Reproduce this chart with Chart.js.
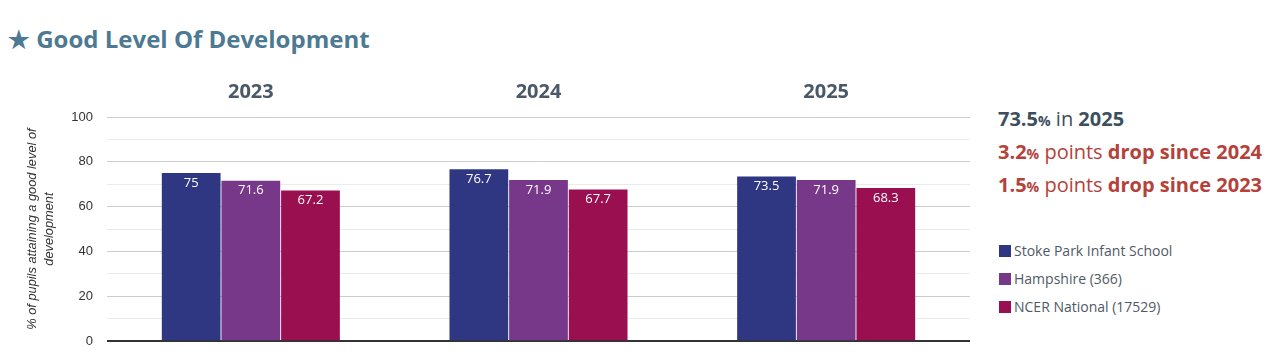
<!DOCTYPE html>
<html>
<head>
<meta charset="utf-8">
<script src="https://cdn.jsdelivr.net/npm/chart.js@4"></script>
<style>
  html, body { margin: 0; padding: 0; background: #ffffff; }
  body { width: 1277px; height: 357px; position: relative; overflow: hidden; font-family: "Open Sans", sans-serif; }
  #title { position: absolute; left: 8px; top: 22px; font-size: 24px; font-weight: 700; color: #4d7a92; white-space: nowrap; }
  #chartWrap { position: absolute; left: 0; top: 60px; width: 972px; height: 303px; }
  #panel { position: absolute; left: 972px; top: 60px; width: 305px; height: 297px; background: #ffffff; }
  .stat { position: absolute; left: 26px; font-size: 20px; white-space: nowrap; }
  .stat b { font-weight: 700; }
  .stat small { font-size: 14px; font-weight: 700; }
  .dark { color: #3d4e5d; }
  .red { color: #b4423a; }
  .leg { position: absolute; left: 27px; font-size: 14px; color: #4f5a66; white-space: nowrap; }
  .leg i { display: inline-block; width: 12px; height: 12px; vertical-align: -1px; margin-right: 3px; }
</style>
</head>
<body>
<div id="title">★ Good Level Of Development</div>
<div id="chartWrap"><canvas id="c" width="972" height="303"></canvas></div>
<div id="panel">
  <div class="stat dark" style="top:45px"><b>73.5</b><small>%</small> in <b>2025</b></div>
  <div class="stat red" style="top:78px"><b>3.2</b><small>%</small> points <b>drop since 2024</b></div>
  <div class="stat red" style="top:111px"><b>1.5</b><small>%</small> points <b>drop since 2023</b></div>
  <div class="leg" style="top:181px"><i style="background:#2f3783"></i>Stoke Park Infant School</div>
  <div class="leg" style="top:209px"><i style="background:#773889"></i>Hampshire (366)</div>
  <div class="leg" style="top:237px"><i style="background:#990f4f"></i>NCER National (17529)</div>
</div>
<script>
const categories = ["2023", "2024", "2025"];
const seriesNames = ["Stoke Park Infant School", "Hampshire (366)", "NCER National (17529)"];
const stokePark = [75, 76.7, 73.5];
const hampshire = [71.6, 71.9, 71.9];
const ncerNational = [67.2, 67.7, 68.3];
const yTickLabels = [0, 20, 40, 60, 80, 100];
const colors = ["#2f3783", "#773889", "#990f4f"];

const valueLabels = {
  id: 'valueLabels',
  afterDatasetsDraw(chart) {
    const ctx = chart.ctx;
    ctx.save();
    ctx.font = '13px "Open Sans", sans-serif';
    ctx.fillStyle = '#ffffff';
    ctx.textAlign = 'center';
    ctx.textBaseline = 'middle';
    chart.data.datasets.forEach((ds, i) => {
      const meta = chart.getDatasetMeta(i);
      meta.data.forEach((bar, j) => {
        ctx.fillText(String(ds.data[j]), bar.x, bar.y + 10);
      });
    });
    ctx.restore();
  }
};

new Chart(document.getElementById('c'), {
  type: 'bar',
  data: {
    labels: categories,
    datasets: [
      { label: seriesNames[0], data: stokePark, backgroundColor: colors[0] },
      { label: seriesNames[1], data: hampshire, backgroundColor: colors[1] },
      { label: seriesNames[2], data: ncerNational, backgroundColor: colors[2] }
    ]
  },
  options: {
    responsive: false,
    animation: false,
    layout: { padding: { top: 0, right: 2, bottom: 0, left: 0 } },
    datasets: { bar: { categoryPercentage: 0.622, barPercentage: 0.985, borderWidth: 0 } },
    plugins: { legend: { display: false }, tooltip: { enabled: false } },
    scales: {
      x: {
        position: 'top',
        grid: { display: false, drawTicks: false },
        border: { display: false },
        ticks: { color: '#4a5968', font: { family: 'Open Sans', size: 20, weight: 'bold' }, padding: 13 },
        afterFit(scale) { scale.height = 57; }
      },
      y: {
        min: 0, max: 100,
        border: { display: false },
        grid: {
          drawTicks: false,
          color(ctx) {
            const v = ctx.tick.value;
            if (v === 0) return '#333333';
            return (v % 20 === 0) ? '#cccccc' : '#ebebeb';
          },
          lineWidth(ctx) { return ctx.tick.value === 0 ? 2 : 1; }
        },
        ticks: {
          stepSize: 10,
          padding: 14,
          color: '#333333',
          font: { family: 'Liberation Sans', size: 13 },
          callback(v) { return yTickLabels.includes(v) ? String(v) : ''; }
        },
        title: {
          display: true,
          text: ['% of pupils attaining a good level of', 'development'],
          color: '#333333',
          font: { family: 'Liberation Sans', size: 12.8, style: 'italic', lineHeight: 1.3 },
          padding: { top: 24, bottom: 0 }
        },
        afterFit(scale) { scale.width = 107; }
      }
    }
  },
  plugins: [valueLabels]
});
</script>
</body>
</html>
